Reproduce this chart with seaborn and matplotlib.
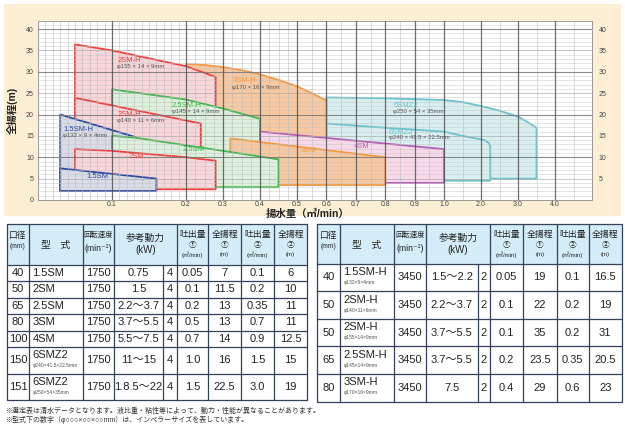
import numpy as np
import matplotlib
matplotlib.use("Agg")
import matplotlib.pyplot as plt
import seaborn as sns
from matplotlib.patches import Rectangle

# ---- 性能曲線データ (吐出量 m3/min, 全揚程 m) ----
sm15_q = [0.03, 0.03, 0.16, 0.16]
sm15_h = [2.1, 7.4, 5.0, 2.1]
sm15h_q = [0.03, 0.03, 0.132, 0.132]
sm15h_h = [2.1, 20.0, 14.7, 2.1]
sm2_q = [0.05, 0.05, 0.1, 0.2, 0.28, 0.28]
sm2_h = [2.5, 11.9, 11.5, 10.0, 9.2, 2.5]
sm2h140_q = [0.05, 0.05, 0.24, 0.24]
sm2h140_h = [12.0, 23.9, 17.9, 11.0]
sm2h155_q = [0.05, 0.05, 0.1, 0.2, 0.28, 0.28]
sm2h155_h = [19.0, 36.4, 35.0, 31.3, 28.8, 19.0]
sm25_q = [0.1, 0.1, 0.13, 0.2, 0.3, 0.45, 0.45]
sm25_h = [3.0, 15.0, 14.6, 12.8, 11.5, 9.5, 3.0]
sm25h_q = [0.1, 0.1, 0.2, 0.3, 0.4, 0.4]
sm25h_h = [13.5, 25.9, 23.5, 21.4, 19.0, 9.5]
sm3_q = [0.32, 0.32, 0.8, 0.8]
sm3_h = [3.5, 14.4, 10.0, 3.5]
sm3h_q = [0.2, 0.2, 0.25, 0.3, 0.35, 0.4, 0.45, 0.5, 0.55, 0.6, 0.6]
sm3h_h = [3.5, 31.8, 31.6, 31.1, 30.4, 29.4, 28.1, 26.6, 25.0, 23.3, 3.5]
sm4_q = [0.4, 0.4, 1.0, 1.0]
sm4_h = [4.0, 16.0, 11.9, 4.0]
z240_q = [0.6, 0.6, 0.8, 1.0, 1.5, 2.0, 2.12, 2.2, 2.25, 2.25]
z240_h = [4.5, 17.9, 16.9, 16.0, 15.0, 14.2, 13.9, 13.4, 12.6, 4.5]
z250_q = [0.6, 0.6, 0.8, 1.0, 1.5, 2.0, 2.5, 3.0, 3.25, 3.5, 3.5]
z250_h = [5.0, 24.0, 23.8, 23.4, 22.9, 22.0, 20.9, 19.5, 18.3, 16.9, 5.0]

# ---- 表データ ----
left_bore = ["40", "50", "65", "80", "100", "150", "151"]
left_model = ["1.5SM", "2SM", "2.5SM", "3SM", "4SM", "6SMZ2", "6SMZ2"]
left_sub = ["", "", "", "", "", "φ240×41.5×22.5mm", "φ250×54×35mm"]
left_speed = ["1750"] * 7
left_kw = ["0.75", "1.5", "2.2～3.7", "3.7～5.5", "5.5～7.5", "11～15", "1.8.5～22"]
left_pole = ["4"] * 7
left_q1 = ["0.05", "0.1", "0.2", "0.5", "0.7", "1.0", "1.5"]
left_h1 = ["7", "11.5", "13", "13", "14", "16", "22.5"]
left_q2 = ["0.1", "0.2", "0.35", "0.7", "0.9", "1.5", "3.0"]
left_h2 = ["6", "10", "11", "11", "12.5", "15", "19"]

right_bore = ["40", "50", "50", "65", "80"]
right_model = ["1.5SM-H", "2SM-H", "2SM-H", "2.5SM-H", "3SM-H"]
right_sub = ["φ132×9×4mm", "φ140×11×6mm", "φ155×14×9mm", "φ145×14×9mm", "φ170×16×9mm"]
right_speed = ["3450"] * 5
right_kw = ["1.5～2.2", "2.2～3.7", "3.7～5.5", "3.7～5.5", "7.5"]
right_pole = ["2"] * 5
right_q1 = ["0.05", "0.1", "0.1", "0.2", "0.4"]
right_h1 = ["19", "22", "35", "23.5", "29"]
right_q2 = ["0.1", "0.2", "0.2", "0.35", "0.6"]
right_h2 = ["16.5", "19", "31", "20.5", "23"]

x_ticks = [0.1, 0.2, 0.3, 0.4, 0.5, 0.6, 0.7, 0.8, 0.9, 1.0, 2.0, 3.0, 4.0]
y_ticks = [0, 5, 10, 15, 20, 25, 30, 35, 40]

sns.set_theme(style="white")
plt.rcParams['font.family'] = ['Liberation Sans', 'Noto Sans CJK JP', 'DejaVu Sans']

W, H = 625, 425
fig = plt.figure(figsize=(W / 100, H / 100), dpi=100)
fig.patch.set_facecolor("white")

# 背景用の座標系 (ピクセル)
bg = fig.add_axes([0, 0, 1, 1], zorder=0)
bg.set_xlim(0, W)
bg.set_ylim(H, 0)
bg.axis("off")
bg.add_patch(Rectangle((3.5, 4), 617, 212, fc="#FCEFD4", ec="none"))

# ---- グラフ ----
ax = fig.add_axes([38 / W, 1 - 200 / H, (592 - 38) / W, 179.5 / H], zorder=2)
xb = [0, 0.1, 0.2, 0.5, 1.0, 4.0, 5.0]
pb = [0, 74, 148, 259, 406, 517, 554]
ax.set_xscale("function", functions=(lambda v: np.interp(v, xb, pb),
                                     lambda p: np.interp(p, pb, xb)))
ax.set_xlim(0, 5)
ax.set_ylim(0, 42)
ax.set_facecolor("white")

RED, RED_F = "#E8413E", "#F9D6D9"
GRN, GRN_F = "#45B651", "#DCF0DC"
BLU, BLU_F = "#2E4C9E", "#D8DBE8"
ORG, ORG_F = "#F29A46", "#F8C9A0"
MAG, MAG_F = "#B35FB3", "#F7D9E9"
CYN, CYN_F = "#6CC3CC", "#D9EEEF"

shapes = [
    (z250_q, z250_h, CYN, CYN_F),
    (z240_q, z240_h, CYN, CYN_F),
    (sm3h_q, sm3h_h, ORG, ORG_F),
    (sm2h155_q, sm2h155_h, RED, RED_F),
    (sm25h_q, sm25h_h, GRN, GRN_F),
    (sm2h140_q, sm2h140_h, RED, RED_F),
    (sm15h_q, sm15h_h, BLU, BLU_F),
    (sm4_q, sm4_h, MAG, MAG_F),
    (sm3_q, sm3_h, ORG, ORG_F),
    (sm25_q, sm25_h, GRN, GRN_F),
    (sm2_q, sm2_h, RED, RED_F),
    (sm15_q, sm15_h, BLU, BLU_F),
]
for i, (q, h, lc, fc) in enumerate(shapes):
    z = 1 + i * 0.1
    ax.fill(q, h, color=fc, lw=0, zorder=z)
    sns.lineplot(x=q + [q[0]], y=h + [h[0]], sort=False, estimator=None,
                 color=lc, lw=1.3, ax=ax, zorder=z + 0.05)

# 格子
minor_x = ([k / 100 for k in range(1, 20) if k != 10]
           + [0.225, 0.25, 0.275, 0.325, 0.35, 0.375, 0.425, 0.45, 0.475]
           + [0.55, 0.65, 0.75, 0.85, 0.95, 1.5, 2.5, 3.5, 4.5])
for v in minor_x:
    ax.axvline(v, color="#b8b8b8", lw=0.45, zorder=2.6, alpha=0.8)
for v in range(1, 42):
    if v % 10 == 0:
        ax.axhline(v, color="#777777", lw=0.8, zorder=2.7, alpha=0.85)
    elif v % 5 == 0:
        ax.axhline(v, color="#aaaaaa", lw=0.6, zorder=2.6, alpha=0.8)
    else:
        ax.axhline(v, color="#c4c4c4", lw=0.45, zorder=2.6, alpha=0.7)
for v in x_ticks:
    ax.axvline(v, color="#555555", lw=0.9, zorder=2.7, alpha=0.85)
ax.axhline(42, color="#aaaaaa", lw=0.6, zorder=2.6)

ax.set_xticks(x_ticks)
ax.set_xticklabels([f"{v:.1f}" for v in x_ticks])
ax.set_yticks(y_ticks)
ax.tick_params(axis="both", length=0, labelsize=5, colors="#444444")
ax.tick_params(axis="x", pad=1)
ax.tick_params(axis="y", pad=3)
ax.set_xlabel("")
ax.set_ylabel("")
for s in ax.spines.values():
    s.set_color("#999999")
    s.set_linewidth(0.7)

ax2 = ax.twinx()
ax2.set_ylim(0, 42)
ax2.set_yticks(y_ticks[1:])
ax2.tick_params(axis="y", length=0, labelsize=5, colors="#444444", pad=5)
ax2.grid(False)
for s in ax2.spines.values():
    s.set_visible(False)

labels = [
    (0.107, 32.7, "2SM-H", RED), (0.325, 27.9, "3SM-H", ORG),
    (0.181, 22.0, "2.5SM-H", GRN), (0.107, 19.9, "2SM-H", RED),
    (0.034, 16.5, "1.5SM-H", BLU), (0.196, 11.7, "2.5SM", GRN),
    (0.122, 10.1, "2SM", RED), (0.066, 5.5, "1.5SM", BLU),
    (0.513, 11.5, "3SM", ORG), (0.693, 12.6, "4SM", MAG),
    (0.827, 22.2, "6SMZ2", CYN), (0.813, 15.7, "6SMZ2", CYN),
]
for x, y, s, c in labels:
    ax.text(x, y, s, color=c, fontsize=5.5, va="center", ha="left", zorder=5)
dims = [
    (0.107, 31.3, "φ155 × 14 × 9mm"), (0.325, 26.4, "φ170 × 16 × 9mm"),
    (0.181, 20.8, "φ145 × 14 × 9mm"), (0.107, 18.5, "φ140 × 11 × 6mm"),
    (0.034, 15.2, "φ132 × 9 × 4mm"), (0.827, 20.8, "φ250 × 54 × 35mm"),
    (0.813, 14.6, "φ240 × 41.5 × 22.5mm"),
]
for x, y, s in dims:
    ax.text(x, y, s, color="#555555", fontsize=4.3, va="center", ha="left", zorder=5)

bg.text(12, 110, "全揚程(m)", rotation=90, fontsize=7.5, fontweight="bold",
        ha="center", va="center", color="#222222")
bg.text(308, 213.5, "揚水量（㎥/min）", fontsize=7.5, fontweight="bold",
        ha="center", va="center", color="#222222")


# ---- 表 ----
def draw_table(xs, ys, rows, sub_rows, tall_from):
    hdr_fc = "#D4EDF8"
    lc = "#34405C"
    bg.add_patch(Rectangle((xs[0], ys[0]), xs[-1] - xs[0], ys[1] - ys[0], fc=hdr_fc, ec="none"))
    for y in ys:
        bg.plot([xs[0], xs[-1]], [y, y], color=lc, lw=0.9)
    for i, x in enumerate(xs):
        top = ys[1] if i == 4 else ys[0]
        bg.plot([x, x], [top, ys[-1]], color=lc, lw=0.9)
    t0 = ys[0]
    cx = [(xs[i] + xs[i + 1]) / 2 for i in range(len(xs) - 1)]
    kw = dict(ha="center", va="center", color="#222222")
    bg.text(cx[0], t0 + 12, "口径", fontsize=6.3, **kw)
    bg.text(cx[0], t0 + 23, "(mm)", fontsize=4.8, **kw)
    bg.text(cx[1], t0 + 21, "型　式", fontsize=7, **kw)
    bg.text(cx[2], t0 + 12, "回転速度", fontsize=5.3, **kw)
    bg.text(cx[2], t0 + 24.5, "(min⁻¹)", fontsize=6.3, **kw)
    kx = (xs[3] + xs[5]) / 2
    bg.text(kx, t0 + 14.5, "参考動力", fontsize=7, **kw)
    bg.text(kx, t0 + 26, "(kW)", fontsize=7, **kw)
    for j, (a, b) in enumerate([("吐出量", "(㎥/min)"), ("全揚程", "(m)"),
                                ("吐出量", "(㎥/min)"), ("全揚程", "(m)")]):
        c = cx[5 + j]
        bg.text(c, t0 + 10.5, a, fontsize=6.4, **kw)
        bg.text(c, t0 + 21.5, "①" if j < 2 else "②", fontsize=5.5, **kw)
        bg.text(c, t0 + 31, b, fontsize=4.3, **kw)
    for r, vals in enumerate(rows):
        y0, y1 = ys[r + 1], ys[r + 2]
        yc = (y0 + y1) / 2
        for c, v in enumerate(vals):
            if c == 1:
                if sub_rows[r]:
                    yy = y0 + (8.5 if r >= tall_from else 10)
                    bg.text(xs[1] + 3.5, yy, v, fontsize=8, ha="left", va="center", color="#222222")
                    bg.text(xs[1] + 3.5, yy + 10.5, sub_rows[r], fontsize=3.6,
                            ha="left", va="center", color="#555555")
                else:
                    bg.text(xs[1] + 3.5, yc, v, fontsize=8, ha="left", va="center", color="#222222")
            else:
                bg.text(cx[c], yc, v, fontsize=8, **kw)


lx = [7, 29, 83, 114, 163, 177, 208, 241, 274, 307]
ly = [223.5, 265, 281, 297.5, 314, 330.5, 347, 373.5, 400]
left_rows = list(zip(left_bore, left_model, left_speed, left_kw, left_pole,
                     left_q1, left_h1, left_q2, left_h2))
draw_table(lx, ly, left_rows, left_sub, 5)

rx = [317, 340, 394, 426, 477.5, 490, 523, 556.5, 589, 621.5]
ry = [223.5, 263.5, 291.2, 318.8, 346.2, 373.8, 401.5]
right_rows = list(zip(right_bore, right_model, right_speed, right_kw, right_pole,
                      right_q1, right_h1, right_q2, right_h2))
draw_table(rx, ry, right_rows, right_sub, 0)

bg.text(5, 411.5, "※選定表は清水データとなります。液比重・粘性等によって、動力・性能が異なることがあります。",
        fontsize=5.0, ha="left", va="center", color="#333333")
bg.text(5, 420.0, "※型式下の数字（φ○○○×○○×○○mm）は、インペラーサイズを表しています。",
        fontsize=5.0, ha="left", va="center", color="#333333")

fig.savefig("out.png", dpi=100)
